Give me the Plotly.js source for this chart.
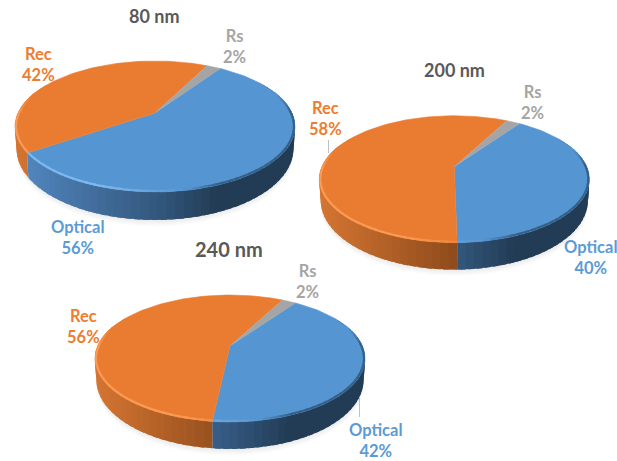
<!DOCTYPE html>
<html>
<head>
<meta charset="utf-8">
<script src="https://cdn.plot.ly/plotly-3.0.1.min.js"></script>
<style>html,body{margin:0;padding:0;background:#fff}#chart{width:617px;height:461px}</style>
</head>
<body>
<div id="chart"></div>
<script>
// Share of each loss channel per film thickness, in percent
const categories = ['Optical', 'Rec', 'Rs'];
const titles = ['80 nm', '200 nm', '240 nm'];
const values80 = [56, 42, 2];
const values200 = [40, 58, 2];
const values240 = [42, 56, 2];

const topColors = {Optical: '#5596D2', Rec: '#E97C30', Rs: '#A5A5A5'};
const labelColors = {Optical: '#5B9BD5', Rec: '#ED7D31', Rs: '#A5A5A5'};
const lightRim = {Optical: [128, 184, 236], Rec: [250, 154, 84], Rs: [200, 200, 200]};
const wallStops = {
  Optical: [[0, [82, 138, 196]], [0.25, [68, 112, 160]], [0.5, [52, 88, 127]], [0.72, [34, 60, 85]], [1, [34, 60, 85]]],
  Rec: [[0, [212, 117, 51]], [0.25, [178, 96, 38]], [0.5, [143, 76, 28]], [0.72, [105, 56, 20]], [1, [105, 56, 20]]],
  Rs: [[0, [130, 130, 130]], [1, [70, 70, 70]]]
};

// Perspective disc: centre on screen, radius, foreshortening, tilt and wall depth
const pies = [
  {title: titles[0], values: values80, cx: 155, cy: 113, R: 137, S: 62.7, k: 0.206, depth: 28, start: 34, titleSize: 18,
   titleAt: [154, 16], labelAt: {Optical: [78, 237], Rec: [38, 64], Rs: [234, 46]}, leader: null},
  {title: titles[1], values: values200, cx: 454.3, cy: 166.7, R: 132.4, S: 61, k: 0.197, depth: 27, start: 35, titleSize: 18,
   titleAt: [454, 70], labelAt: {Optical: [591, 257], Rec: [325, 118], Rs: [532, 102]}, leader: [[328.5, 140], [328.5, 153]]},
  {title: titles[2], values: values240, cx: 230, cy: 346, R: 132.4, S: 61, k: 0.197, depth: 27, start: 35, titleSize: 20,
   titleAt: [229, 249], labelAt: {Optical: [376, 440], Rec: [83, 326], Rs: [307, 281]}, leader: [[359.5, 398], [359.5, 417]]}
];

const rad = d => d * Math.PI / 180;
const clamp = s => Math.max(0, Math.min(1, s));
const mix = (a, b, s) => a.map((c, i) => c + (b[i] - c) * s);
const css = c => 'rgb(' + c.map(Math.round).join(',') + ')';
const hex = h => [1, 3, 5].map(i => parseInt(h.substr(i, 2), 16));

function rimPoint(p, deg) {
  const u = Math.sin(rad(deg)), v = Math.cos(rad(deg)), w = 1 + p.k * v;
  return {x: p.cx + p.R * u / w, y: p.cy - p.S * v / w, v};
}
function footPoint(p, deg, extra) {
  const q = rimPoint(p, deg);
  return {x: p.cx + (q.x - p.cx) * 0.99, y: q.y + p.depth * (0.72 - 0.28 * q.v) + (extra || 0)};
}
function ramp(stops, t) {
  for (let i = 1; i < stops.length; i++) {
    if (t <= stops[i][0]) {
      return mix(stops[i - 1][1], stops[i][1], (t - stops[i - 1][0]) / (stops[i][0] - stops[i - 1][0]));
    }
  }
  return stops[stops.length - 1][1];
}

const traces = [];
function addFill(pts, color, edge) {
  traces.push({
    type: 'scatter', mode: 'lines', x: pts.map(q => q.x), y: pts.map(q => q.y),
    fill: 'toself', fillcolor: color, line: {color: color, width: edge === undefined ? 0.6 : edge},
    hoverinfo: 'skip', showlegend: false
  });
}
function addLine(pts, color, width) {
  traces.push({
    type: 'scatter', mode: 'lines', x: pts.map(q => q.x), y: pts.map(q => q.y),
    line: {color: color, width: width, simplify: false}, hoverinfo: 'skip', showlegend: false
  });
}

const annotations = [];
pies.forEach(p => {
  // Boundaries of the slices, clockwise from the start angle
  let a = p.start;
  const slices = categories.map((name, i) => {
    const s = {name, value: p.values[i], from: a, to: a + p.values[i] * 3.6};
    a = s.to;
    return s;
  });
  const left = p.cx - p.R / Math.sqrt(1 - p.k * p.k);
  const width = 2 * p.R / Math.sqrt(1 - p.k * p.k);

  // Soft contact shadow under the wall
  for (let e = 6; e >= 1; e--) {
    const outline = [];
    for (let d = 70; d <= 290; d += 4) outline.push(footPoint(p, d, e + 0.5));
    addFill(outline, 'rgba(0,0,0,0.012)', 0);
  }

  // Outer wall, shaded in overlapping strips so no seams show between them
  slices.forEach(s => {
    for (let k = -2; k <= 1; k++) {
      const a0 = Math.max(s.from + k * 360, 60), a1 = Math.min(s.to + k * 360, 300);
      if (a1 <= a0) continue;
      const steps = Math.ceil((a1 - a0) / 3);
      for (let j = 0; j < steps; j++) {
        const d0 = a0 + (a1 - a0) * j / steps;
        const d1 = Math.min(a1, a0 + (a1 - a0) * (j + 1) / steps + 2);
        const dm = a0 + (a1 - a0) * (j + 0.5) / steps;
        const t = (rimPoint(p, dm).x - left) / width;
        addFill([rimPoint(p, d0), rimPoint(p, d1), footPoint(p, d1), footPoint(p, d0)],
                css(ramp(wallStops[s.name], t)), 0);
      }
    }
  });

  // Top face
  slices.forEach(s => {
    const pts = [{x: p.cx, y: p.cy}];
    const steps = Math.max(4, Math.ceil((s.to - s.from) / 2));
    for (let j = 0; j <= steps; j++) pts.push(rimPoint(p, s.from + (s.to - s.from) * j / steps));
    addFill(pts, topColors[s.name]);
  });

  // Bevel along the rim: a light edge on the left, a dark falloff on the right
  slices.forEach(s => {
    for (let k = -2; k <= 1; k++) {
      const a0 = Math.max(s.from + k * 360, 70), a1 = Math.min(s.to + k * 360, 290);
      if (a1 <= a0) continue;
      const steps = Math.ceil((a1 - a0) / 3);
      for (let j = 0; j < steps; j++) {
        const d0 = a0 + (a1 - a0) * j / steps;
        const d1 = Math.min(a1, a0 + (a1 - a0) * (j + 1) / steps + 1.5);
        const q0 = rimPoint(p, d0), q1 = rimPoint(p, d1);
        const t = ((q0.x + q1.x) / 2 - left) / width;
        const base = hex(topColors[s.name]);
        const fade = clamp((0.3 - (q0.v + q1.v) / 2) / 0.3);
        let color;
        if (t < 0.6) {
          color = mix(base, lightRim[s.name], clamp((0.6 - t) / 0.3) * fade);
        } else {
          color = mix(base, ramp(wallStops[s.name], t), Math.min(0.6, (t - 0.6) / 0.2) * fade);
        }
        const inset = 1;
        const shift = q => ({x: q.x + (p.cx - q.x) * inset / p.R, y: q.y - inset * Math.max(0, -q.v)});
        addLine([shift(q0), shift(q1)], css(color), 2);
      }
    }
  });

  if (p.leader) addLine(p.leader.map(q => ({x: q[0], y: q[1]})), '#BFBFBF', 1);

  annotations.push({
    x: p.titleAt[0], y: p.titleAt[1], xref: 'x', yref: 'y', text: '<b>' + p.title + '</b>',
    showarrow: false, font: {family: 'Lato, sans-serif', size: p.titleSize, color: '#595959'}
  });
  slices.forEach(s => {
    annotations.push({
      x: p.labelAt[s.name][0], y: p.labelAt[s.name][1], xref: 'x', yref: 'y',
      text: '<b>' + s.name + '<br>' + s.value + '%</b>', align: 'center',
      showarrow: false, font: {family: 'Lato, sans-serif', size: 16.5, color: labelColors[s.name]}
    });
  });
});

const hiddenAxis = {visible: false, fixedrange: true};
Plotly.newPlot('chart', traces, {
  width: 617, height: 461, margin: {l: 0, r: 0, t: 0, b: 0},
  paper_bgcolor: '#fff', plot_bgcolor: '#fff', showlegend: false,
  xaxis: Object.assign({range: [0, 617]}, hiddenAxis),
  yaxis: Object.assign({range: [461, 0]}, hiddenAxis),
  annotations
}, {displayModeBar: false, staticPlot: true});
</script>
</body>
</html>
